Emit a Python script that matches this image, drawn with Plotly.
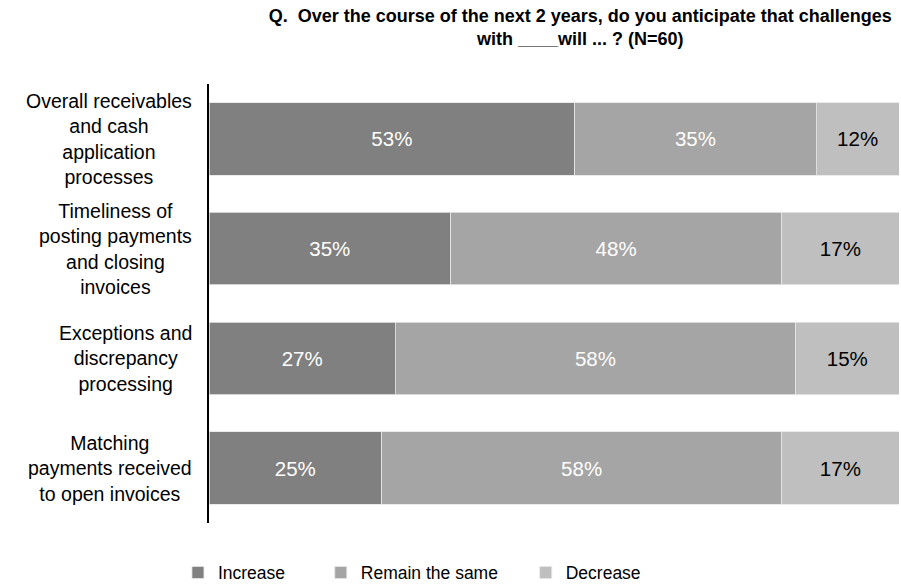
import plotly.graph_objects as go

# Survey categories, top to bottom
categories = [
    "Overall receivables<br>and cash<br>application<br>processes",
    "Timeliness of<br>posting payments<br>and closing<br>invoices",
    "Exceptions and<br>discrepancy<br>processing",
    "Matching<br>payments received<br>to open invoices",
]
category_keys = ["c1", "c2", "c3", "c4"]

# Share of respondents (%) per answer
increase = [53, 35, 27, 25]
remain_same = [35, 48, 58, 58]
decrease = [12, 17, 15, 17]

series_names = ["Increase", "Remain the same", "Decrease"]
series_values = [increase, remain_same, decrease]
series_colors = ["#808080", "#A5A5A5", "#BFBFBF"]
label_colors = ["#FFFFFF", "#FFFFFF", "#000000"]
legend_ids = ["legend", "legend2", "legend3"]

FONT = "Liberation Sans, Arial, sans-serif"

fig = go.Figure()
for name, vals, col, lcol, lid in zip(series_names, series_values, series_colors,
                                      label_colors, legend_ids):
    fig.add_trace(go.Bar(
        y=category_keys,
        x=vals,
        name=name,
        orientation="h",
        marker=dict(color=col, line=dict(color="#E6E6E6", width=0.8)),
        text=[f"{v}%" for v in vals],
        textposition="inside",
        insidetextanchor="middle",
        textfont=dict(family=FONT, size=20.5, color=lcol),
        constraintext="none",
        legend=lid,
        hoverinfo="skip",
    ))

# Category labels as centred multi-line text blocks left of the axis
for key, label in zip(category_keys, categories):
    fig.add_annotation(
        xref="paper", yref="y", x=-0.022, y=key,
        text=label, showarrow=False, xanchor="right", yanchor="middle",
        align="center", font=dict(family=FONT, size=19.5, color="#000000"),
    )

legend_common = dict(
    orientation="h", yanchor="middle", y=-0.113, xanchor="left",
    font=dict(family=FONT, size=17.5, color="#000000"),
    bgcolor="rgba(0,0,0,0)", itemwidth=30, itemclick=False, itemdoubleclick=False,
)

fig.update_layout(
    width=901, height=586,
    margin=dict(l=209, r=2, t=84, b=63, autoexpand=False),
    paper_bgcolor="white", plot_bgcolor="white",
    barmode="stack", bargap=0.34,
    showlegend=True,
    title=dict(
        text="<b>Q.  Over the course of the next 2 years, do you anticipate that challenges<br>with ____will ... ? (N=60)</b>",
        x=0.538, xanchor="center", xref="paper",
        y=0.963, yanchor="top",
        font=dict(family=FONT, size=18, color="#000000"),
    ),
    xaxis=dict(range=[0, 100], visible=False, fixedrange=True),
    yaxis=dict(
        type="category", autorange="reversed", showticklabels=False,
        showline=True, linecolor="#000000", linewidth=2, ticks="",
        showgrid=False, zeroline=False, fixedrange=True,
    ),
    legend=dict(legend_common, x=-0.045),
    legend2=dict(legend_common, x=0.162),
    legend3=dict(legend_common, x=0.459),
)

fig.write_html("out.html")
